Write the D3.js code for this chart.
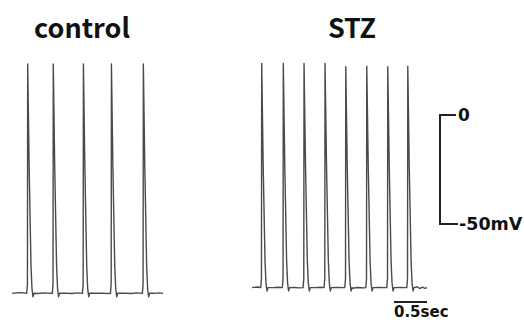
<!DOCTYPE html>
<html>
<head>
	<meta charset="utf-8">
	<script src="https://cdnjs.cloudflare.com/ajax/libs/d3/7.8.5/d3.min.js"></script>
	<style>
		body { margin: 0; background: #fff; }
		.title { font-family: "Noto Sans CJK JP", "Noto Sans", sans-serif; font-weight: 700; font-size: 27px; fill: #111; }
		.scale-label { font-family: "DejaVu Sans", sans-serif; font-weight: 700; fill: #111; }
	</style>
</head>
<body>
	<svg width="524" height="320" id="chart"></svg>
	<script>
	//panel names
	var panels = ["control", "STZ"];

	//spike times (s) and peak potentials (mV)
	var controlSpikeTimes = [0.238, 0.626, 1.083, 1.508, 1.992];
	var controlPeaks = [23.4, 23.4, 23.4, 23.4, 23.4];
	var stzSpikeTimes = [0.147, 0.474, 0.788, 1.106, 1.420, 1.738, 2.056, 2.359];
	var stzPeaks = [23.7, 23.7, 23.7, 23.7, 22.2, 22.4, 22.2, 22.4];

	//resting potentials (mV)
	var controlRest = -81.8;
	var stzRest = -79.2;

	//baseline samples [time s, mV]
	var controlBase = [[0,-81.8],[0.1,-81.5],[0.18,-81.6],[0.32,-82.2],[0.4,-81.9],[0.5,-81.6],[0.58,-81.8],
		[0.72,-82.0],[0.8,-81.7],[0.9,-81.9],[1.0,-81.6],[1.17,-82.1],[1.25,-81.8],[1.35,-81.7],[1.45,-81.9],
		[1.6,-82.0],[1.7,-81.7],[1.8,-81.9],[1.9,-81.6],[2.08,-82.0],[2.15,-81.8],[2.22,-81.6],[2.29,-81.8]];
	var stzBase = [[0,-79.2],[0.08,-78.9],[0.12,-79.1],[0.24,-79.5],[0.32,-79.2],[0.4,-79.0],[0.45,-79.2],
		[0.56,-79.4],[0.64,-79.1],[0.72,-79.3],[0.88,-79.5],[0.96,-79.2],[1.04,-79.0],[1.2,-79.4],[1.3,-79.1],
		[1.38,-79.2],[1.52,-79.5],[1.6,-79.1],[1.7,-79.3],[1.83,-79.4],[1.92,-79.1],[2.0,-79.2],[2.15,-79.4],
		[2.25,-79.1],[2.32,-79.2],[2.45,-79.6],[2.5,-78.8],[2.54,-79.6],[2.58,-79.0],[2.62,-79.5],[2.65,-79.2]];

	//spike waveform: [time offset s, fraction of amplitude]
	var spikeShape = [[-0.015,0],[-0.004,0.04],[0,1],[0.022,0.55],[0.05,0.12],[0.065,0.02],[0.08,-0.015],[0.095,0]];

	//scale bar values
	var scaleMv = [0, -50];
	var scaleMvLabels = ["0", "-50mV"];
	var scaleSec = 0.5;
	var scaleSecLabel = "0.5sec";

	var svg = d3.select("svg");

	//shared voltage scale
	var y = d3.scaleLinear().domain([0, -50]).range([115, 224]);

	//time scales for each panel (same px per second)
	var xControl = d3.scaleLinear().domain([0, 2.29]).range([12, 163]);
	var xStz = d3.scaleLinear().domain([0, 2.65]).range([252, 427]);

	//build a trace from baseline samples and spikes
	function buildTrace(base, times, peaks, rest) {
		var pts = base.filter(function(p) {
			return !times.some(function(t) { return p[0] > t - 0.02 && p[0] < t + 0.1; });
		});
		times.forEach(function(t, i) {
			spikeShape.forEach(function(s) {
				pts.push([t + s[0], rest + s[1] * (peaks[i] - rest)]);
			});
		});
		return pts.sort(function(a, b) { return a[0] - b[0]; });
	}

	var traces = [
		{name: panels[0], x: xControl, cx: 82, data: buildTrace(controlBase, controlSpikeTimes, controlPeaks, controlRest)},
		{name: panels[1], x: xStz, cx: 352, data: buildTrace(stzBase, stzSpikeTimes, stzPeaks, stzRest)}
	];

	traces.forEach(function(tr) {
		var line = d3.line()
			.x(function(d) { return tr.x(d[0]); })
			.y(function(d) { return y(d[1]); });

		svg.append("path")
			.datum(tr.data)
			.attr("fill", "none")
			.attr("stroke", "#4a4a4a")
			.attr("stroke-width", 1.4)
			.attr("stroke-linejoin", "round")
			.attr("d", line);

		//panel title
		svg.append("text")
			.attr("class", "title")
			.attr("x", tr.cx)
			.attr("y", 38)
			.attr("text-anchor", "middle")
			.text(tr.name);
	});

	//voltage scale bar
	var barX = 440;
	svg.append("path")
		.attr("fill", "none")
		.attr("stroke", "#222")
		.attr("stroke-width", 2)
		.attr("d", "M" + (barX + 16) + "," + y(scaleMv[0]) + "H" + barX + "V" + y(scaleMv[1]) + "H" + (barX + 18));

	svg.append("text")
		.attr("class", "scale-label")
		.attr("x", barX + 18)
		.attr("y", y(scaleMv[0]) + 6)
		.style("font-size", "17px")
		.text(scaleMvLabels[0]);

	svg.append("text")
		.attr("class", "scale-label")
		.attr("x", barX + 19)
		.attr("y", y(scaleMv[1]) + 6)
		.style("font-size", "17.5px")
		.text(scaleMvLabels[1]);

	//time scale bar
	var t0 = 2.15;
	svg.append("line")
		.attr("x1", xStz(t0))
		.attr("x2", xStz(t0 + scaleSec))
		.attr("y1", 302)
		.attr("y2", 302)
		.attr("stroke", "#222")
		.attr("stroke-width", 2);

	svg.append("text")
		.attr("class", "scale-label")
		.attr("x", xStz(t0))
		.attr("y", 317)
		.style("font-size", "15px")
		.text(scaleSecLabel);
	</script>
</body>
</html>
